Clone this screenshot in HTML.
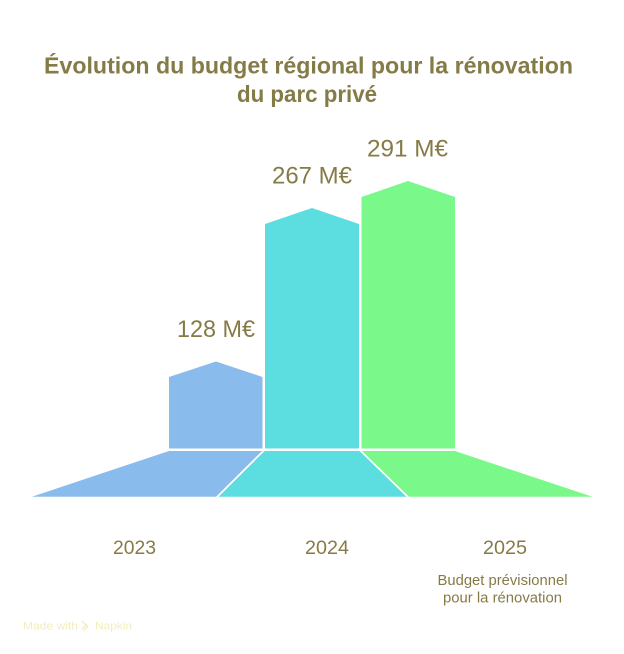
<!DOCTYPE html>
<html>
<head>
<meta charset="utf-8">
<style>
  html, body { margin:0; padding:0; background:#ffffff; }
  body { width:624px; height:654px; overflow:hidden; }
  svg { display:block; }
  text { font-family: "Liberation Sans", sans-serif; }
</style>
</head>
<body>
<svg width="624" height="654" viewBox="0 0 624 654" xmlns="http://www.w3.org/2000/svg">
  <rect width="624" height="654" fill="#ffffff"/>

  <!-- Title -->
  <text x="44" y="73.3" font-size="23" font-weight="bold" fill="#857b46" textLength="529" lengthAdjust="spacingAndGlyphs">Évolution du budget régional pour la rénovation</text>
  <text x="237" y="101.8" font-size="23" font-weight="bold" fill="#857b46" textLength="140" lengthAdjust="spacingAndGlyphs">du parc privé</text>

  <!-- Bars -->
  <polygon points="169,377 216,361.5 262.5,377 262.5,448.5 169,448.5" fill="#89bbec"/>
  <polygon points="265,224 312,208 359,224 359,448.5 265,448.5" fill="#5cdde0"/>
  <polygon points="361.5,197 408,181 455,197 455,448.5 361.5,448.5" fill="#7af98a"/>

  <!-- Bases -->
  <polygon points="169,451 262,451 216,496.7 32,496.7" fill="#89bbec"/>
  <polygon points="264.5,451 359.5,451 406.5,496.7 218.5,496.7" fill="#5cdde0"/>
  <polygon points="362,451 455,451 592.5,496.7 409,496.7" fill="#7af98a"/>

  <!-- Value labels -->
  <text x="177" y="337" font-size="24" fill="#857b46" textLength="78" lengthAdjust="spacingAndGlyphs">128 M€</text>
  <text x="272" y="183.3" font-size="24" fill="#857b46" textLength="80" lengthAdjust="spacingAndGlyphs">267 M€</text>
  <text x="367" y="156.7" font-size="24" fill="#857b46" textLength="81" lengthAdjust="spacingAndGlyphs">291 M€</text>

  <!-- Year labels -->
  <text x="113" y="554" font-size="19" fill="#857b46" textLength="43" lengthAdjust="spacingAndGlyphs">2023</text>
  <text x="305" y="554" font-size="19" fill="#857b46" textLength="44" lengthAdjust="spacingAndGlyphs">2024</text>
  <text x="483" y="554" font-size="19" fill="#857b46" textLength="44" lengthAdjust="spacingAndGlyphs">2025</text>

  <!-- Sub label -->
  <text x="437.5" y="585" font-size="15" fill="#857b46" textLength="130" lengthAdjust="spacingAndGlyphs">Budget prévisionnel</text>
  <text x="443" y="602.7" font-size="15" fill="#857b46" textLength="119" lengthAdjust="spacingAndGlyphs">pour la rénovation</text>

  <!-- Watermark -->
  <text x="23" y="629.5" font-size="11" fill="#f4ecbd" textLength="55" lengthAdjust="spacingAndGlyphs">Made with</text>
  <g stroke="#f4ecbd" stroke-width="1.2" fill="none">
    <path d="M81.5,621 L86.5,625 L81.5,629"/>
    <path d="M83.5,623 L88,626.5 L83.5,630.5"/>
  </g>
  <text x="95" y="629.5" font-size="11" fill="#f4ecbd" textLength="37" lengthAdjust="spacingAndGlyphs">Napkin</text>
</svg>
</body>
</html>
